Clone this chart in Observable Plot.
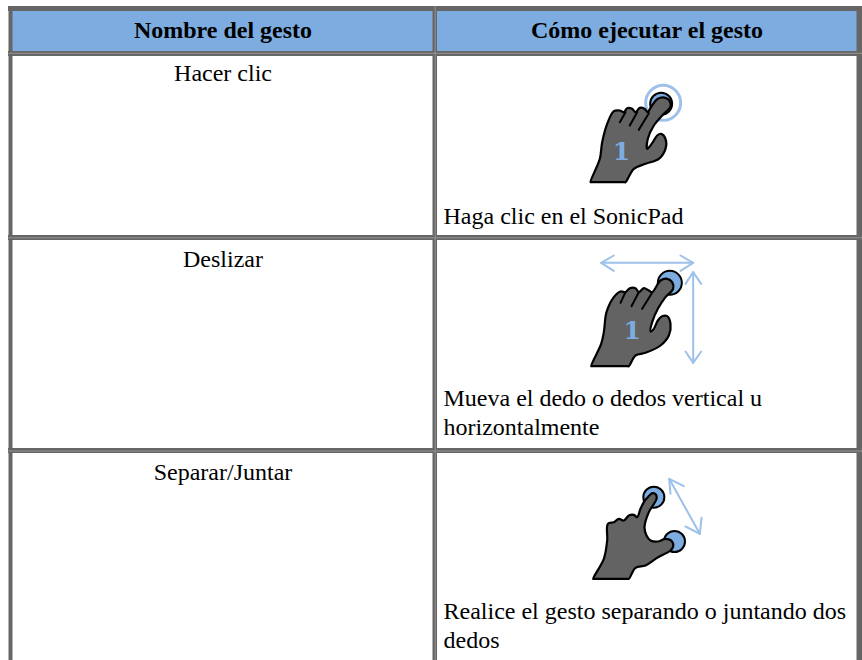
<!DOCTYPE html>
<html><head><meta charset="utf-8">
<script src="https://cdn.jsdelivr.net/npm/d3@7"></script>
<script src="https://cdn.jsdelivr.net/npm/@observablehq/plot@0.6"></script>
<style>html,body{margin:0;padding:0;background:#fff;overflow:hidden}svg{display:block}</style>
</head><body><div id="chart"></div>
<script>
// Table structure
const headers = ["Nombre del gesto", "Cómo ejecutar el gesto"];
const gestureNames = ["Hacer clic", "Deslizar", "Separar/Juntar"];
const gestureNotes = [
  ["Haga clic en el SonicPad"],
  ["Mueva el dedo o dedos vertical u", "horizontalmente"],
  ["Realice el gesto separando o juntando dos", "dedos"]
];
const nameRows = [73, 259, 472];
const noteRows = [[216], [398, 427], [611, 640]];
const headerRow = 30;
const columnCentres = [222.5, 646.5];
const noteLeft = 443;
const colEdges = [[8.5, 12.5], [432.5, 437], [856.5, 862]];
const colSeams = [434.7];
const rowEdges = [[6, 11], [51, 56], [235, 240], [448, 453]];
const rowSeams = [52.8, 237.3, 450.5];
const headerBand = {x1: 12, x2: 857, y1: 11, y2: 51};

// Icons: outlines traced in 3x crop units, with crop origin per icon
const hand1 = [[60,335],[63,335],[160,335],[165,335],[190,295],[225,280],[265,265],[285,235],[285,205],[272,190],[260,195],[245,218],[230,235],[232,205],[250,165],[275,135],[300,108],[298,92],[285,82],[262,85],[240,112],[232,125],[222,115],[208,112],[195,125],[185,115],[170,113],[160,125],[148,120],[130,122],[110,160],[95,215],[88,265]];
const hand1Creases = [[[165,125],[148,155]],[[200,125],[178,165]],[[235,128],[205,178]]];
const hand2 = [[62,362],[65,362],[170,362],[175,362],[195,330],[225,322],[270,300],[295,270],[300,235],[290,212],[275,212],[262,225],[250,250],[240,258],[245,230],[262,190],[285,155],[308,130],[305,110],[290,100],[270,105],[245,140],[235,135],[220,128],[205,140],[195,128],[178,128],[165,140],[150,138],[130,155],[108,200],[100,260],[92,295]];
const hand2Creases = [[[165,140],[150,172]],[[205,140],[183,182]],[[243,145],[215,190]]];
const hand3 = [[68,325],[71,325],[170,325],[175,325],[195,292],[225,285],[260,262],[300,240],[308,228],[304,212],[285,205],[262,213],[240,210],[228,195],[222,170],[235,125],[258,85],[256,72],[246,68],[234,78],[222,92],[210,115],[200,140],[190,133],[175,135],[160,150],[145,145],[130,155],[112,160],[110,210],[100,265]];
const arrows2 = [
  [[92,52],[368,52]], [[130,30],[92,52],[130,76]], [[330,30],[368,52],[330,76]],
  [[368,80],[368,352]], [[345,115],[368,80],[392,115]], [[345,318],[368,352],[392,318]]
];
const arrows3 = [
  [[296,25],[388,190]], [[340,47],[296,25],[300,70]], [[393,142],[388,190],[345,168]]
];
const origin1 = [570, 70], origin2 = [570, 245], origin3 = [570, 470];
const place = (pts, o) => pts.map(([a, b]) => [o[0] + a / 3, o[1] + b / 3]);

const blue = "#7dade0", paleBlue = "#9dc1e9", grey = "#666666", seam = "#949494", handFill = "#636363";
const serif = "'Liberation Serif','Times New Roman',serif";
const fontSize = 24;

const handMark = (pts, o) => Plot.line(place(pts, o), {curve: "catmull-rom-closed", fill: handFill, stroke: "#000", strokeWidth: 2.2});
const creaseMarks = (list, o) => list.map(c => Plot.line(place(c, o), {stroke: "#000", strokeWidth: 2}));
const arrowMarks = (list, o) => list.map(a => Plot.line(place(a, o), {stroke: paleBlue, strokeWidth: 2}));
const textRows = [];
gestureNames.forEach((t, i) => textRows.push({t, x: columnCentres[0], y: nameRows[i], anchor: "middle"}));
gestureNotes.forEach((lines, i) => lines.forEach((t, j) => textRows.push({t, x: noteLeft, y: noteRows[i][j]})));

const plot = Plot.plot({
  width: 862, height: 660, margin: 0,
  x: {domain: [0, 862], range: [0, 862], axis: null},
  y: {domain: [0, 660], range: [0, 660], axis: null},
  marks: [
    Plot.rect([headerBand], {x1: "x1", x2: "x2", y1: "y1", y2: "y2", fill: blue}),
    Plot.rect(rowEdges, {x1: () => 8, x2: () => 862, y1: d => d[0], y2: d => d[1], fill: grey}),
    Plot.rect(colEdges, {x1: d => d[0], x2: d => d[1], y1: () => 6, y2: () => 660, fill: grey}),
    Plot.ruleY(rowSeams, {x1: 8, x2: 862, stroke: seam, strokeWidth: 1}),
    Plot.ruleX(colSeams, {y1: 6, y2: 660, stroke: seam, strokeWidth: 1}),
    Plot.text(headers, {x: (d, i) => columnCentres[i], y: () => headerRow, text: d => d, fontFamily: serif, fontSize, fontWeight: "bold", fill: "#000"}),
    Plot.text(textRows.filter(d => d.anchor), {x: "x", y: "y", text: "t", fontFamily: serif, fontSize, fill: "#000"}),
    Plot.text(textRows.filter(d => !d.anchor), {x: "x", y: "y", text: "t", textAnchor: "start", fontFamily: serif, fontSize, fill: "#000"}),
    // Hand 1
    Plot.dot(place([[278,97]], origin1), {r: 17.5, fill: "none", stroke: paleBlue, strokeWidth: 3}),
    Plot.dot(place([[272,100]], origin1), {r: 11, fill: blue, stroke: "#000", strokeWidth: 2}),
    handMark(hand1, origin1),
    ...creaseMarks(hand1Creases, origin1),
    Plot.text(place([[153,245]], origin1), {text: () => "1", fill: blue, fontFamily: "'DejaVu Serif'", fontWeight: "bold", fontSize: 25}),
    // Hand 2
    ...arrowMarks(arrows2, origin2),
    Plot.dot(place([[298,112]], origin2), {r: 12, fill: blue, stroke: "#000", strokeWidth: 2}),
    handMark(hand2, origin2),
    ...creaseMarks(hand2Creases, origin2),
    Plot.text(place([[185,255]], origin2), {text: () => "1", fill: blue, fontFamily: "'DejaVu Serif'", fontWeight: "bold", fontSize: 25}),
    // Hand 3
    ...arrowMarks(arrows3, origin3),
    Plot.dot(place([[250,80],[312,213]], origin3), {r: 10.5, fill: blue, stroke: "#000", strokeWidth: 2}),
    handMark(hand3, origin3)
  ]
});
document.getElementById("chart").append(plot);
</script></body></html>
